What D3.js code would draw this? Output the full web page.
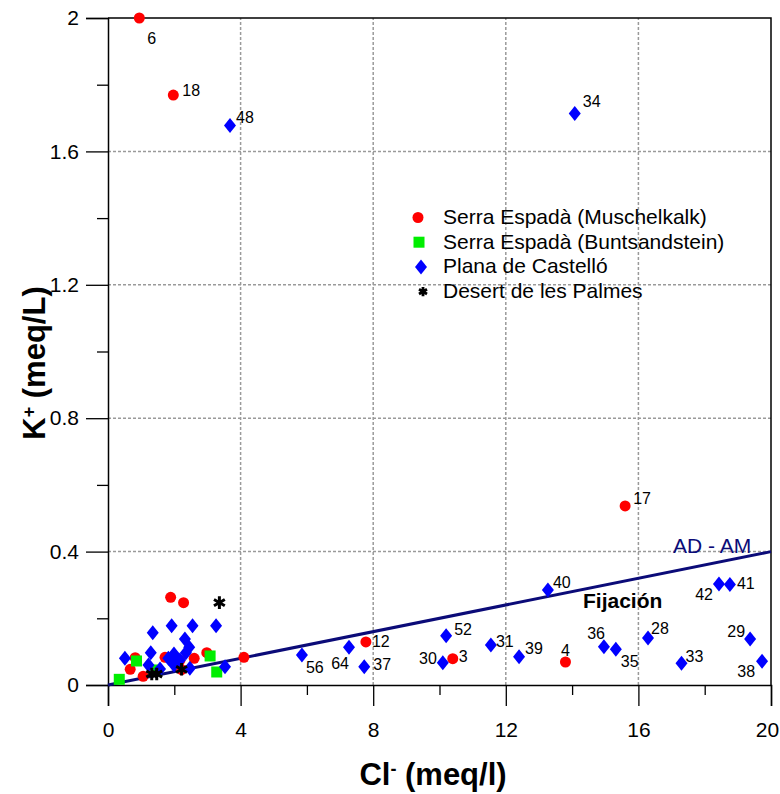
<!DOCTYPE html>
<html>
<head>
<meta charset="utf-8">
<script src="https://cdn.jsdelivr.net/npm/d3@7"></script>
<style>
  html, body { margin: 0; padding: 0; background: #fff; }
  svg { display: block; font-family: "Liberation Sans", Arial, Helvetica, sans-serif; }
</style>
</head>
<body>
<svg id="chart" width="780" height="794"></svg>
<script>
// ---------------- DATA ----------------
// [Cl- (meq/l), K+ (meq/L), sample label]
const muschelkalk = [
  [0.945, 2.0, "6"], [1.97, 1.769, "18"], [15.6, 0.537, "17"], [7.78, 0.129, "12"],
  [10.4, 0.079, "3"], [13.8, 0.069, "4"],
  [4.1, 0.083, ""], [1.89, 0.263, ""], [2.28, 0.247, ""], [0.82, 0.082, ""],
  [0.67, 0.047, ""], [1.06, 0.026, ""], [1.72, 0.083, ""], [2.17, 0.074, ""],
  [2.6, 0.08, ""], [2.98, 0.097, ""], [2.22, 0.046, ""]
];
const buntsandstein = [
  [0.34, 0.017, ""], [0.86, 0.072, ""], [1.45, 0.045, ""], [3.08, 0.087, ""], [3.28, 0.039, ""]
];
const planaCastello = [
  [3.68, 1.678, "48"], [14.08, 1.714, "34"], [13.27, 0.285, "40"], [10.2, 0.148, "52"],
  [11.55, 0.12, "31"], [12.4, 0.085, "39"], [10.1, 0.067, "30"], [5.85, 0.09, "56"],
  [7.27, 0.113, "64"], [7.73, 0.055, "37"], [14.96, 0.115, "36"], [15.32, 0.107, "35"],
  [16.29, 0.141, "28"], [17.3, 0.065, "33"], [18.43, 0.303, "42"], [18.76, 0.301, "41"],
  [19.37, 0.138, "29"], [19.73, 0.071, "38"],
  [1.35, 0.157, ""], [1.92, 0.178, ""], [2.55, 0.178, ""], [3.26, 0.178, ""],
  [2.32, 0.138, ""], [2.45, 0.113, ""], [2.35, 0.097, ""], [0.51, 0.08, ""],
  [1.29, 0.097, ""], [1.99, 0.093, ""], [1.82, 0.08, ""], [1.22, 0.06, ""],
  [1.57, 0.048, ""], [1.99, 0.06, ""], [2.47, 0.05, ""], [3.53, 0.055, ""], [2.17, 0.075, ""]
];
const desertPalmes = [
  [3.36, 0.247, ""], [1.32, 0.033, ""], [1.47, 0.033, ""], [2.22, 0.047, ""]
];
const adAmLine = [[0, 0], [20, 0.4]];
const xTicks = [0, 4, 8, 12, 16, 20];
const xMinorTicks = [2, 6, 10, 14, 18];
const yTicks = [0, 0.4, 0.8, 1.2, 1.6, 2];
const yMinorTicks = [0.2, 0.6, 1.0, 1.4, 1.8];
const seriesNames = ["Serra Espadà (Muschelkalk)", "Serra Espadà (Buntsandstein)", "Plana de Castelló", "Desert de les Palmes"];

// ---------------- LAYOUT / STYLE ----------------
// label placement: [dx, dy, anchor]
const labelPlacement = {
  "6": [8, 26, "start"], "18": [9, 1, "start"], "48": [6, -2, "start"], "34": [8, -6, "start"],
  "17": [8, -2, "start"], "40": [5, -2, "start"], "42": [-6, 16, "end"], "41": [7, 4, "start"],
  "36": [1, -8, "end"], "35": [5, 18, "start"], "28": [3, -4, "start"], "33": [4, -1, "start"],
  "29": [-5, -2, "end"], "38": [-7, 16, "end"], "39": [6, -3, "start"], "4": [0, -6, "middle"],
  "31": [5, 2, "start"], "56": [4, 18, "start"], "64": [0, 22, "end"], "12": [6, 5, "start"],
  "37": [9, 3, "start"], "52": [8, -1, "start"], "30": [-6, 1, "end"], "3": [6, 3, "start"]
};

const svg = d3.select("#chart");
const x = d3.scaleLinear().domain([0, 20]).range([108, 771]);
const y = d3.scaleLinear().domain([0, 2]).range([685, 18]);

// grid
const grid = svg.append("g");
grid.selectAll("line.gx").data(xTicks.filter(v => v > 0 && v < 20)).join("line")
  .attr("x1", d => x(d)).attr("x2", d => x(d)).attr("y1", y(0)).attr("y2", y(2))
  .attr("stroke", "#9a9a9a").attr("stroke-width", 1.5).attr("stroke-dasharray", "3,2");
grid.selectAll("line.gy").data(yTicks.filter(v => v > 0 && v < 2)).join("line")
  .attr("y1", d => y(d)).attr("y2", d => y(d)).attr("x1", x(0)).attr("x2", x(20))
  .attr("stroke", "#9a9a9a").attr("stroke-width", 1.5).attr("stroke-dasharray", "3,2");

// frame (top & right)
svg.append("path")
  .attr("d", `M${x(0)},${y(2)}H${x(20)}V${y(0)}`)
  .attr("fill", "none").attr("stroke", "#000").attr("stroke-width", 1.5);

// axes
const xAxis = svg.append("g").attr("transform", `translate(0,${y(0)})`)
  .call(d3.axisBottom(x).tickValues(xTicks).tickSize(21).tickPadding(16).tickFormat(d3.format("d")));
const xMinor = svg.append("g").attr("transform", `translate(0,${y(0)})`)
  .call(d3.axisBottom(x).tickValues(xMinorTicks).tickSize(10).tickFormat(""));
const yAxis = svg.append("g").attr("transform", `translate(${x(0)},0)`)
  .call(d3.axisLeft(y).tickValues(yTicks).tickSize(22).tickPadding(7).tickFormat(d => d === 0 ? "0" : (d === 2 ? "2" : d3.format(".1f")(d))));
const yMinor = svg.append("g").attr("transform", `translate(${x(0)},0)`)
  .call(d3.axisLeft(y).tickValues(yMinorTicks).tickSize(11).tickFormat(""));
[xAxis, xMinor, yAxis, yMinor].forEach(g => {
  g.select(".domain").attr("stroke", "#000").attr("stroke-width", 1.5);
  g.selectAll(".tick line").attr("stroke", "#000").attr("stroke-width", 1.3);
  g.selectAll(".tick text").attr("font-size", 21).attr("fill", "#000")
    .attr("font-family", "'Liberation Sans', Arial, sans-serif");
});
xAxis.selectAll(".tick text").filter(d => d === 20).attr("dx", -4);
xMinor.select(".domain").remove();
yMinor.select(".domain").remove();

// axis titles
const xt = svg.append("text").attr("x", 433).attr("y", 785).attr("text-anchor", "middle")
  .attr("font-size", 31).attr("font-weight", "bold");
xt.append("tspan").text("Cl");
xt.append("tspan").attr("baseline-shift", "super").attr("font-size", 18).text("-");
xt.append("tspan").text(" (meq/l)");

const yt = svg.append("text").attr("transform", "translate(45,363) rotate(-90)")
  .attr("text-anchor", "middle").attr("font-size", 31).attr("font-weight", "bold");
yt.append("tspan").text("K");
yt.append("tspan").attr("baseline-shift", "super").attr("font-size", 18).text("+");
yt.append("tspan").text(" (meq/L)");

// AD - AM line
svg.append("path").datum(adAmLine)
  .attr("d", d3.line().x(d => x(d[0])).y(d => y(d[1])))
  .attr("stroke", "#0b0b78").attr("stroke-width", 3).attr("fill", "none");
svg.append("text").attr("x", 673).attr("y", 553).attr("font-size", 21).attr("fill", "#0b0b78").text("AD - AM");
svg.append("text").attr("x", 583).attr("y", 608).attr("font-size", 21).attr("font-weight", "bold").text("Fijación");

// markers
const diamondPath = "M0,-7.5L6,0L0,7.5L-6,0Z";
const starPath = d3.symbol(d3.symbolAsterisk, 110)();
const marks = svg.append("g");
marks.selectAll("circle.m").data(muschelkalk).join("circle")
  .attr("cx", d => x(d[0])).attr("cy", d => y(d[1])).attr("r", 5.5).attr("fill", "#ff0000");
marks.selectAll("rect.b").data(buntsandstein).join("rect")
  .attr("x", d => x(d[0]) - 5.5).attr("y", d => y(d[1]) - 5.5).attr("width", 11).attr("height", 11).attr("fill", "#00ee00");
marks.selectAll("path.p").data(planaCastello).join("path")
  .attr("transform", d => `translate(${x(d[0])},${y(d[1])})`).attr("d", diamondPath).attr("fill", "#0000ff");
marks.selectAll("path.s").data(desertPalmes).join("path")
  .attr("transform", d => `translate(${x(d[0])},${y(d[1])})`).attr("d", starPath)
  .attr("stroke", "#000").attr("stroke-width", 3).attr("fill", "none");

// point labels
const labelled = [...muschelkalk, ...planaCastello].filter(d => d[2] !== "");
svg.append("g").selectAll("text").data(labelled).join("text")
  .attr("x", d => x(d[0]) + labelPlacement[d[2]][0])
  .attr("y", d => y(d[1]) + labelPlacement[d[2]][1])
  .attr("text-anchor", d => labelPlacement[d[2]][2])
  .attr("font-size", 16).attr("fill", "#000").text(d => d[2]);

// legend
const legend = svg.append("g");
const legendRows = seriesNames.map((name, i) => ({ name, i }));
const lg = legend.selectAll("g").data(legendRows).join("g")
  .attr("transform", d => `translate(0,${224 + d.i * 24.7})`);
lg.append("text").attr("x", 443).attr("y", 0).attr("font-size", 21).text(d => d.name);
lg.each(function(d) {
  const g = d3.select(this);
  const cy = -6.5;
  if (d.i === 0) g.append("circle").attr("cx", 418).attr("cy", cy).attr("r", 5.5).attr("fill", "#ff0000");
  if (d.i === 1) g.append("rect").attr("x", 419 - 5.5).attr("y", cy - 5.5).attr("width", 11).attr("height", 11).attr("fill", "#00ee00");
  if (d.i === 2) g.append("path").attr("transform", `translate(421,${cy})`).attr("d", diamondPath).attr("fill", "#0000ff");
  if (d.i === 3) g.append("path").attr("transform", `translate(423,${cy})`).attr("d", d3.symbol(d3.symbolAsterisk, 60)())
    .attr("stroke", "#000").attr("stroke-width", 2.8).attr("fill", "none");
});
</script>
</body>
</html>
